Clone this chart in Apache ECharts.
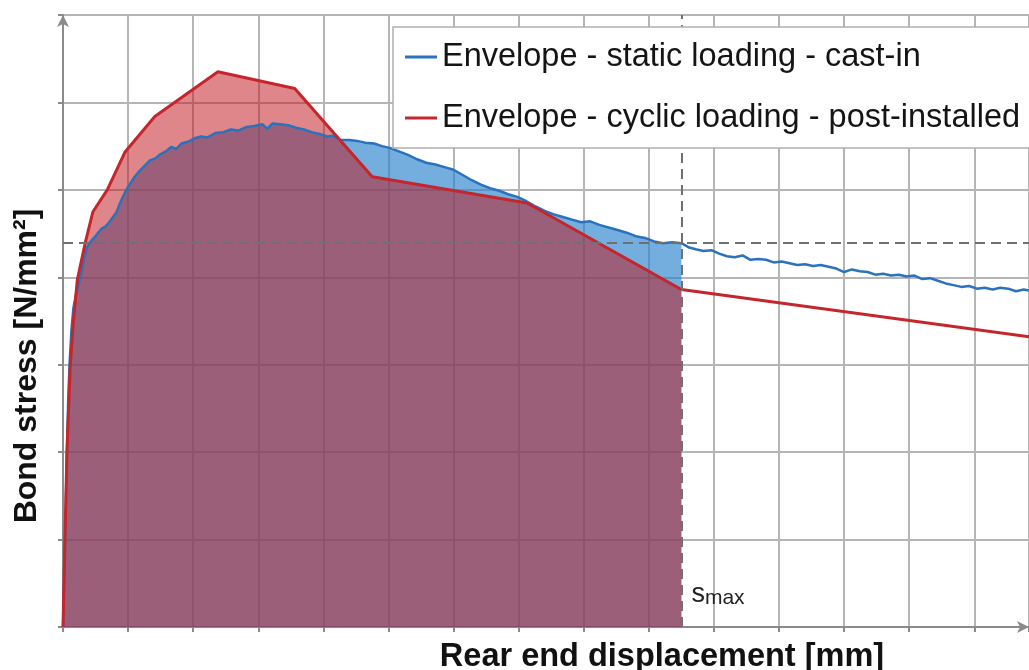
<!DOCTYPE html>
<html lang="en">

<head>
    <meta charset="UTF-8">
    <title>Bond stress envelopes</title>
    <script src="https://cdn.jsdelivr.net/npm/echarts@6/dist/echarts.min.js"></script>
    <style>
        html, body { margin: 0; padding: 0; background: #fff; }
    </style>
</head>

<body>
    <div id="main" style="width: 1029px;height: 670px"></div>
    <script type="text/javascript">
        // static loading, cast-in
        var staticX = [0, 0.02, 0.04, 0.06, 0.08, 0.10, 0.13, 0.16, 0.20, 0.24, 0.28, 0.32, 0.36, 0.40, 0.45, 0.50,
            0.55, 0.60, 0.65, 0.70, 0.76, 0.82, 0.86, 0.92, 0.98, 1.04, 1.10, 1.18, 1.26, 1.34, 1.42, 1.50, 1.58,
            1.66, 1.74, 1.82, 1.92, 2.02, 2.12, 2.22, 2.34, 2.46, 2.58, 2.70, 2.82, 2.94, 3.06, 3.14, 3.22, 3.34,
            3.46, 3.58, 3.70, 3.82, 3.94, 4.06, 4.14, 4.26, 4.40, 4.52, 4.64, 4.78, 4.90, 5.02, 5.16, 5.30, 5.44,
            5.58, 5.72, 5.86, 6.00, 6.14, 6.28, 6.42, 6.56, 6.70, 6.84, 6.98, 7.12, 7.26, 7.40, 7.54, 7.68, 7.82,
            7.96, 8.10, 8.24, 8.38, 8.52, 8.66, 8.80, 8.94, 9.08, 9.22, 9.36, 9.50, 9.62, 9.72, 9.84, 9.96, 10.08,
            10.20, 10.32, 10.44, 10.56, 10.68, 10.80, 10.92, 11.04, 11.16, 11.28, 11.40, 11.52, 11.64, 11.76,
            11.88, 12.00, 12.12, 12.24, 12.36, 12.48, 12.60, 12.72, 12.84, 12.96, 13.08, 13.20, 13.32, 13.44,
            13.56, 13.68, 13.80, 13.92, 14.04, 14.16, 14.28, 14.40, 14.52, 14.64, 14.76, 14.84];
        var staticY = [0, 0.6, 1.3, 2.0, 2.6, 3.0, 3.4, 3.65, 3.8, 3.92, 4.05, 4.2, 4.33, 4.38, 4.43, 4.47,
            4.52, 4.56, 4.58, 4.62, 4.68, 4.74, 4.82, 4.92, 5.01, 5.08, 5.15, 5.22, 5.28, 5.34, 5.36, 5.41, 5.44,
            5.49, 5.47, 5.53, 5.55, 5.59, 5.61, 5.60, 5.65, 5.66, 5.69, 5.68, 5.72, 5.73, 5.75, 5.70, 5.76, 5.75,
            5.74, 5.71, 5.69, 5.66, 5.64, 5.61, 5.62, 5.57, 5.57, 5.56, 5.54, 5.53, 5.50, 5.48, 5.44, 5.40, 5.35,
            5.31, 5.29, 5.26, 5.23, 5.17, 5.11, 5.06, 5.02, 4.99, 4.95, 4.92, 4.87, 4.81, 4.76, 4.72, 4.69, 4.66,
            4.63, 4.64, 4.60, 4.57, 4.54, 4.51, 4.47, 4.45, 4.41, 4.39, 4.40, 4.39, 4.34, 4.32, 4.30, 4.31, 4.27,
            4.24, 4.23, 4.25, 4.20, 4.21, 4.20, 4.17, 4.18, 4.16, 4.14, 4.15, 4.13, 4.14, 4.12,
            4.10, 4.06, 4.09, 4.07, 4.06, 4.03, 4.04, 4.02, 4.03, 4.01, 4.02, 3.98, 3.99, 3.96,
            3.93, 3.91, 3.89, 3.90, 3.87, 3.88, 3.86, 3.88, 3.87, 3.84, 3.86, 3.85];

        // cyclic loading, post-installed
        var cyclicX = [0, 0.03, 0.06, 0.11, 0.16, 0.22, 0.34, 0.46, 0.68, 0.95, 1.41, 2.38, 3.56, 4.75, 7.13, 9.50, 14.84];
        var cyclicY = [0, 1.0, 1.99, 2.97, 3.5, 3.97, 4.39, 4.75, 5.00, 5.43, 5.84, 6.35, 6.16, 5.15, 4.85, 3.86, 3.32];

        var sMax = 9.5;          // end of the shaded region
        var sMaxStress = 4.39;   // static envelope value at s_max

        function pairs(xs, ys) {
            return xs.map(function (x, i) { return [x, ys[i]]; });
        }
        function upTo(xs, ys, lim) {
            return pairs(xs, ys).filter(function (p) { return p[0] <= lim; });
        }

        var blueLine = '#2b72bd';
        var redLine = '#c4262c';
        var gridColor = '#b5b5b5';
        var axisColor = '#8a8a8a';

        var myChart = echarts.init(document.getElementById('main'));
        var option = {
            animation: false,
            textStyle: { fontFamily: 'Liberation Sans' },
            grid: { left: 63, right: 0, top: 15, bottom: 43 },
            xAxis: {
                type: 'value',
                min: 0,
                max: 14.84,
                interval: 1,
                axisLine: { lineStyle: { color: axisColor, width: 2 }, symbol: ['none', 'arrow'], symbolSize: [9, 12] },
                axisTick: { show: true, length: 5, lineStyle: { color: axisColor, width: 2 } },
                axisLabel: { show: false },
                splitLine: { show: true, lineStyle: { color: gridColor, width: 2 } }
            },
            yAxis: {
                type: 'value',
                min: 0,
                max: 7,
                interval: 1,
                axisLine: { show: true, lineStyle: { color: axisColor, width: 2 }, symbol: ['none', 'arrow'], symbolSize: [9, 12] },
                axisTick: { show: true, length: 5, lineStyle: { color: axisColor, width: 2 } },
                axisLabel: { show: false },
                splitLine: { show: true, lineStyle: { color: gridColor, width: 2 } }
            },
            legend: {
                data: ['Envelope - static loading - cast-in', 'Envelope - cyclic loading - post-installed'],
                orient: 'vertical',
                left: 393,
                top: 27,
                z: 20,
                padding: [13, 12, 13, 12],
                itemGap: 27,
                itemWidth: 32,
                itemHeight: 3,
                icon: 'rect',
                selectedMode: false,
                backgroundColor: '#fff',
                borderColor: '#b0b0b0',
                borderWidth: 1.5,
                textStyle: { fontSize: 32.5, lineHeight: 34, color: '#141414', fontFamily: 'Liberation Sans' }
            },
            graphic: [{
                type: 'text',
                rotation: Math.PI / 2,
                x: 27, y: 366,
                style: {
                    text: 'Bond stress [N/mm²]',
                    font: 'bold 32px "Liberation Sans"',
                    fill: '#111',
                    align: 'center',
                    verticalAlign: 'middle'
                }
            }, {
                type: 'text',
                x: 662, y: 657,
                style: {
                    text: 'Rear end displacement [mm]',
                    font: 'bold 32.5px "Liberation Sans"',
                    fill: '#111',
                    align: 'center',
                    verticalAlign: 'middle'
                }
            }],
            series: [{
                name: 'static area',
                type: 'line',
                data: upTo(staticX, staticY, sMax),
                showSymbol: false,
                lineStyle: { width: 0 },
                areaStyle: { color: 'rgba(40,130,205,0.65)', opacity: 1 },
                silent: true
            }, {
                name: 'Envelope - static loading - cast-in',
                type: 'line',
                data: pairs(staticX, staticY),
                showSymbol: false,
                color: blueLine,
                lineStyle: { color: blueLine, width: 2.5 },
                markLine: {
                    silent: true,
                    symbol: 'none',
                    label: { show: false },
                    lineStyle: { color: '#707070', width: 2, type: [10, 6] },
                    data: [{ yAxis: sMaxStress }, { xAxis: sMax }]
                },
                markPoint: {
                    silent: true,
                    data: [{
                        coord: [sMax, 0.37],
                        symbol: 'circle',
                        symbolSize: 0,
                        label: {
                            show: true,
                            position: 'right',
                            distance: 10,
                            formatter: '{s|s}{m|max}',
                            rich: {
                                s: { fontSize: 27, color: '#222', verticalAlign: 'top', lineHeight: 28 },
                                m: { fontSize: 21, color: '#222', verticalAlign: 'bottom', lineHeight: 22, padding: [10, 0, 0, 0] }
                            }
                        }
                    }]
                }
            }, {
                name: 'cyclic area',
                type: 'line',
                data: upTo(cyclicX, cyclicY, sMax),
                showSymbol: false,
                lineStyle: { width: 0 },
                areaStyle: { color: 'rgba(192,23,29,0.52)', opacity: 1 },
                silent: true
            }, {
                name: 'Envelope - cyclic loading - post-installed',
                type: 'line',
                data: pairs(cyclicX, cyclicY),
                showSymbol: false,
                color: redLine,
                lineStyle: { color: redLine, width: 3 }
            }]
        };
        myChart.setOption(option);
    </script>
</body>

</html>
